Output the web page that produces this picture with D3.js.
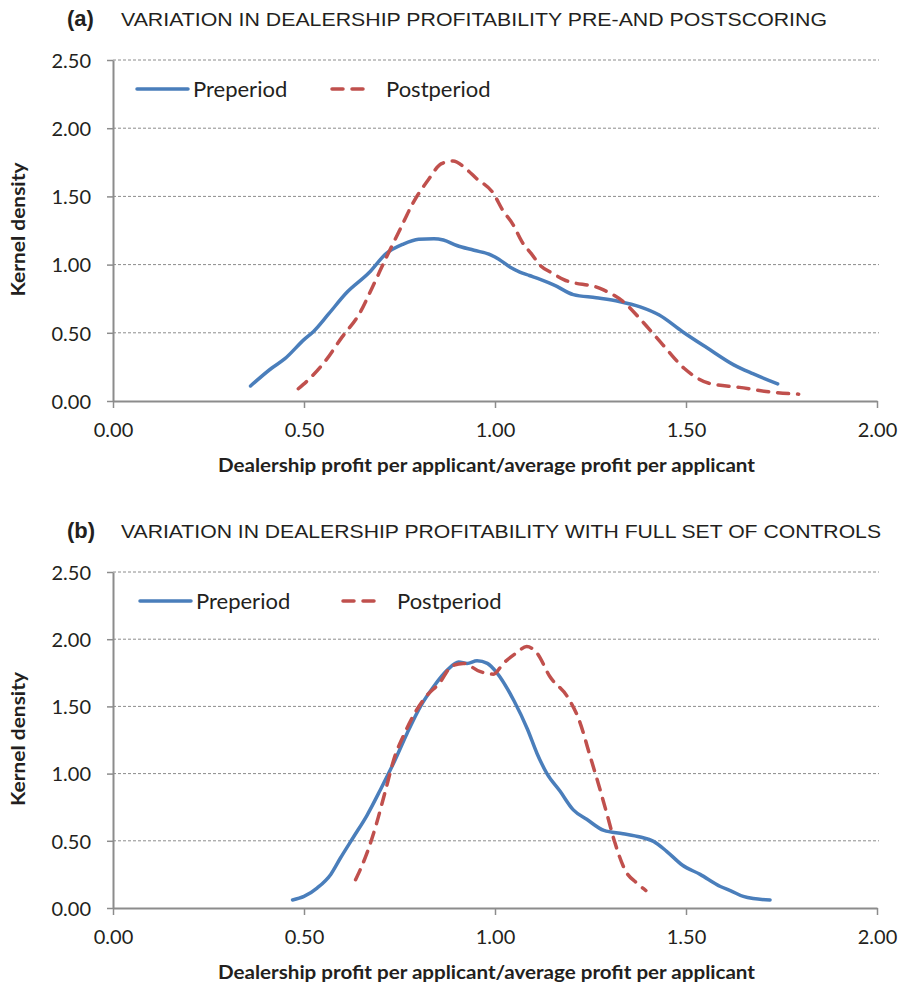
<!DOCTYPE html>
<html>
<head>
<meta charset="utf-8">
<script src="https://cdn.jsdelivr.net/npm/d3@7"></script>
<style>
  body { margin: 0; background: #fff; }
  svg { display: block; }
</style>
</head>
<body>
<svg width="900" height="986"></svg>
<script>
// kernel density curves, [ratio, density]
var preperiodA = [[0.36,0.11],[0.415,0.24],[0.45,0.31],[0.50,0.45],[0.525,0.51],[0.565,0.64],[0.61,0.79],[0.67,0.94],
  [0.715,1.08],[0.76,1.15],[0.80,1.185],[0.84,1.19],[0.865,1.18],[0.90,1.14],[0.945,1.105],[0.99,1.07],[1.01,1.04],
  [1.04,0.98],[1.065,0.945],[1.09,0.92],[1.12,0.89],[1.155,0.85],[1.205,0.78],[1.265,0.757],[1.325,0.73],[1.38,0.69],
  [1.43,0.63],[1.49,0.51],[1.555,0.39],[1.625,0.265],[1.675,0.2],[1.74,0.125]];
var postperiodA = [[0.485,0.09],[0.515,0.165],[0.555,0.29],[0.60,0.47],[0.645,0.64],[0.68,0.84],[0.715,1.05],[0.75,1.25],
  [0.785,1.45],[0.825,1.62],[0.86,1.74],[0.89,1.76],[0.925,1.70],[0.95,1.635],[0.995,1.525],[1.02,1.40],[1.048,1.29],
  [1.07,1.17],[1.095,1.08],[1.12,0.99],[1.145,0.945],[1.18,0.89],[1.275,0.825],[1.335,0.73],[1.39,0.57],[1.44,0.41],
  [1.495,0.24],[1.56,0.13],[1.64,0.10],[1.71,0.07],[1.795,0.05]];
var preperiodB = [[0.47,0.06],[0.50,0.086],[0.535,0.15],[0.57,0.25],[0.595,0.37],[0.63,0.53],[0.665,0.69],[0.70,0.88],
  [0.735,1.08],[0.77,1.30],[0.805,1.50],[0.84,1.65],[0.875,1.77],[0.905,1.83],[0.927,1.82],[0.953,1.84],[0.98,1.82],
  [1.005,1.75],[1.05,1.54],[1.085,1.33],[1.11,1.15],[1.136,1.00],[1.17,0.87],[1.205,0.73],[1.24,0.66],[1.285,0.577],
  [1.335,0.553],[1.38,0.528],[1.415,0.496],[1.45,0.42],[1.49,0.32],[1.537,0.25],[1.59,0.16],[1.616,0.13],[1.65,0.086],
  [1.676,0.07],[1.72,0.06]];
var postperiodB = [[0.635,0.21],[0.665,0.41],[0.69,0.63],[0.712,0.86],[0.738,1.13],[0.76,1.28],[0.79,1.45],[0.82,1.575],
  [0.855,1.675],[0.887,1.80],[0.917,1.82],[0.96,1.76],[0.996,1.74],[1.022,1.82],[1.057,1.90],[1.083,1.945],[1.109,1.90],
  [1.144,1.72],[1.19,1.57],[1.22,1.40],[1.249,1.13],[1.27,0.93],[1.292,0.71],[1.314,0.485],[1.34,0.285],[1.371,0.186],
  [1.395,0.13]];

var xTicks = [0, 0.5, 1, 1.5, 2];
var yTicks = [0, 0.5, 1, 1.5, 2, 2.5];
var seriesNames = ["Preperiod", "Postperiod"];
var panelTags = ["(a)", "(b)"];
var panelTitles = ["VARIATION IN DEALERSHIP PROFITABILITY PRE-AND POSTSCORING",
                   "VARIATION IN DEALERSHIP PROFITABILITY WITH FULL SET OF CONTROLS"];
var xTitle = "Dealership profit per applicant/average profit per applicant";
var yTitle = "Kernel density";

var blue = "#4a7ebb", red = "#c0504d", grey = "#8c8c8c", ink = "#231f20";
var labelFont = "Lato, 'Open Sans', sans-serif";
var titleFont = "'Liberation Sans', Arial, sans-serif";

var svg = d3.select("svg");
var fmt = d3.format(".2f");

function drawPanel(i, top, bottom, pre, post, legendX, titleWidth) {
    var left = 113, right = 877;
    var g = svg.append("g");

    var x = d3.scaleLinear().domain([0, 2]).range([left, right]);
    var y = d3.scaleLinear().domain([0, 2.5]).range([bottom, top]);

    // title
    g.append("text")
        .attr("x", 67).attr("y", top - 34)
        .attr("font-family", titleFont).attr("font-weight", "bold")
        .attr("font-size", "22px").attr("fill", ink)
        .text(panelTags[i]);
    g.append("text")
        .attr("x", 121).attr("y", top - 34)
        .attr("font-family", titleFont)
        .attr("font-size", "19px").attr("fill", ink)
        .attr("textLength", titleWidth).attr("lengthAdjust", "spacingAndGlyphs")
        .text(panelTitles[i]);

    // gridlines
    g.selectAll(".grid")
        .data(yTicks.filter(function(d) { return d > 0; }))
      .enter().append("line")
        .attr("x1", left).attr("x2", right + 2)
        .attr("y1", function(d) { return y(d); })
        .attr("y2", function(d) { return y(d); })
        .attr("stroke", grey).attr("stroke-width", 1)
        .attr("stroke-dasharray", "3,2");

    // axes
    var yAxis = g.append("g")
        .attr("transform", "translate(" + left + ",0)")
        .call(d3.axisLeft(y).tickValues(yTicks).tickFormat(fmt).tickSizeInner(6).tickSizeOuter(0).tickPadding(16));
    var xAxis = g.append("g")
        .attr("transform", "translate(0," + bottom + ")")
        .call(d3.axisBottom(x).tickValues(xTicks).tickFormat(fmt).tickSizeInner(7).tickSizeOuter(0).tickPadding(15));
    [yAxis, xAxis].forEach(function(a) {
        a.select(".domain").attr("stroke", grey).attr("stroke-width", 2);
        a.selectAll(".tick line").attr("stroke", grey).attr("stroke-width", 1.5);
        a.selectAll(".tick text")
            .attr("font-family", labelFont).attr("font-size", "20px").attr("fill", ink);
    });
    yAxis.selectAll(".tick text").attr("dy", "0.36em");

    g.append("text")
        .attr("x", 218).attr("y", bottom + 71)
        .attr("font-family", labelFont).attr("font-weight", "bold")
        .attr("font-size", "19px").attr("fill", ink)
        .attr("textLength", 537).attr("lengthAdjust", "spacingAndGlyphs")
        .text(xTitle);
    g.append("text")
        .attr("transform", "translate(25," + ((top + bottom) / 2 + 66) + ") rotate(-90)")
        .attr("font-family", labelFont).attr("font-weight", "bold")
        .attr("font-size", "18px").attr("fill", ink)
        .attr("textLength", 134).attr("lengthAdjust", "spacingAndGlyphs")
        .text(yTitle);

    // curves
    var line = d3.line()
        .x(function(d) { return x(d[0]); })
        .y(function(d) { return y(d[1]); })
        .curve(d3.curveMonotoneX);

    g.append("path").datum(pre)
        .attr("d", line).attr("fill", "none")
        .attr("stroke", blue).attr("stroke-width", 3.5)
        .attr("stroke-linejoin", "round").attr("stroke-linecap", "round");
    g.append("path").datum(post)
        .attr("d", line).attr("fill", "none")
        .attr("stroke", red).attr("stroke-width", 3.5)
        .attr("stroke-dasharray", "11,9").attr("stroke-linecap", "round");

    // legend
    var ly = top + 29;
    var lg = g.append("g");
    lg.append("line")
        .attr("x1", legendX[0]).attr("x2", legendX[0] + 51)
        .attr("y1", ly).attr("y2", ly)
        .attr("stroke", blue).attr("stroke-width", 3.5).attr("stroke-linecap", "round");
    lg.append("text")
        .attr("x", legendX[0] + 56).attr("y", ly).attr("dy", "0.35em")
        .attr("font-family", labelFont).attr("font-size", "22px").attr("fill", ink)
        .text(seriesNames[0]);
    lg.append("line")
        .attr("x1", legendX[1] + 2).attr("x2", legendX[1] + 42)
        .attr("y1", ly).attr("y2", ly)
        .attr("stroke", red).attr("stroke-width", 3.5)
        .attr("stroke-dasharray", "11,9").attr("stroke-linecap", "round");
    lg.append("text")
        .attr("x", legendX[1] + 56).attr("y", ly).attr("dy", "0.35em")
        .attr("font-family", labelFont).attr("font-size", "22px").attr("fill", ink)
        .text(seriesNames[1]);
}

drawPanel(0, 60, 401, preperiodA, postperiodA, [137, 330], 706);
drawPanel(1, 572, 908, preperiodB, postperiodB, [140, 341], 760);
</script>
</body>
</html>
